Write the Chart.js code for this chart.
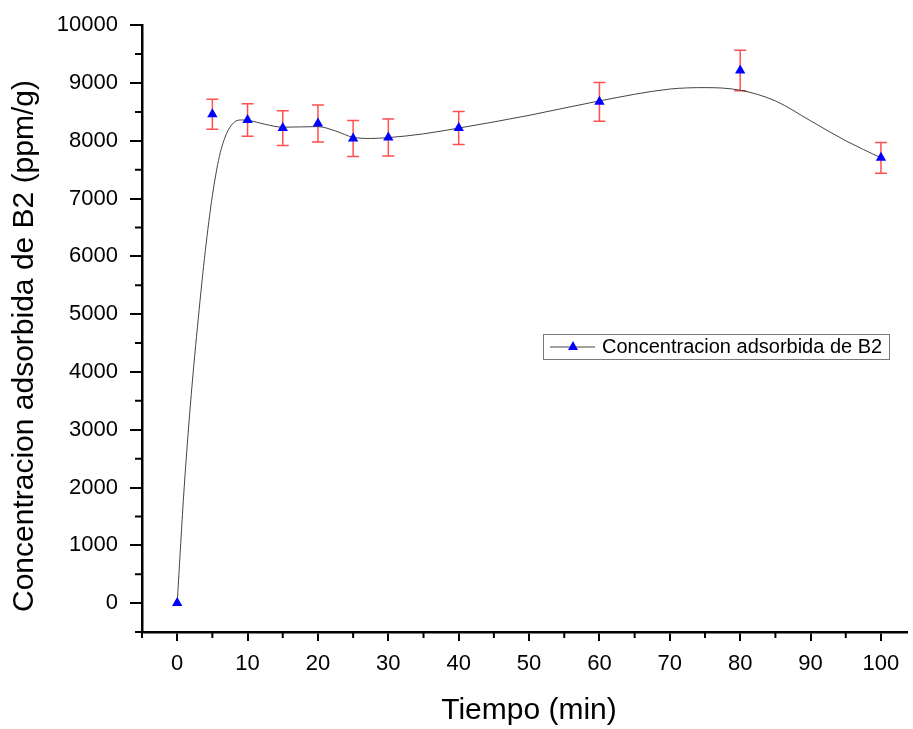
<!DOCTYPE html>
<html lang="es">
<head>
<meta charset="UTF-8">
<title>Concentracion adsorbida de B2</title>
<script src="https://cdn.jsdelivr.net/npm/chart.js"></script>
<style>
    body { margin: 0; background: #fff; }
    #wrap { width: 913px; height: 729px; }
</style>
</head>
<body>
<div id="wrap"><canvas id="myChart" width="913" height="729"></canvas></div>
<script>
// Measured points (min, ppm/g) with their error
const tiempo = [0, 5, 10, 15, 20, 25, 30, 40, 60, 80, 100];
const concentracion = [0, 8460, 8360, 8220, 8300, 8040, 8055, 8220, 8675, 9215, 7705];
const errorConc = [0, 260, 280, 300, 320, 310, 320, 285, 335, 350, 265];

// Smoothed curve through the measurements
const curvaX = [0, 1, 2, 3, 4, 5, 6, 7, 8, 9, 10, 12.5, 15, 17.5, 20, 22.5, 25, 27.5, 30, 35, 40, 50, 60, 70, 75, 80, 85, 90, 95, 100];
const curvaY = [0, 2010, 3610, 4930, 6100, 7050, 7730, 8120, 8310, 8360, 8355, 8285, 8235, 8240, 8245, 8170, 8060, 8040, 8055, 8120, 8220, 8440, 8690, 8895, 8920, 8875, 8690, 8345, 8000, 7705];

// Axis ticks
const xTicks = [0, 10, 20, 30, 40, 50, 60, 70, 80, 90, 100];
const xMinor = [-5, 5, 15, 25, 35, 45, 55, 65, 75, 85, 95, 105];
const yTicks = [0, 1000, 2000, 3000, 4000, 5000, 6000, 7000, 8000, 9000, 10000];
const yMinor = [-500, 500, 1500, 2500, 3500, 4500, 5500, 6500, 7500, 8500, 9500];

const serieLabel = 'Concentracion adsorbida de B2';
const xTitle = 'Tiempo (min)';
const yTitle = 'Concentracion adsorbida de B2 (ppm/g)';
const FONT = "'Liberation Sans', Arial, sans-serif";

// error bars behind the markers
const errorBars = {
    id: 'errorBars',
    beforeDatasetsDraw(chart) {
        const ctx = chart.ctx, xs = chart.scales.x, ys = chart.scales.y;
        ctx.save();
        ctx.strokeStyle = 'rgb(255,80,80)';
        ctx.lineWidth = 1.5;
        tiempo.forEach((t, i) => {
            if (!errorConc[i]) return;
            const px = xs.getPixelForValue(t);
            const top = ys.getPixelForValue(concentracion[i] + errorConc[i]);
            const bot = ys.getPixelForValue(concentracion[i] - errorConc[i]);
            ctx.beginPath();
            ctx.moveTo(px, top); ctx.lineTo(px, bot);
            ctx.moveTo(px - 6, top); ctx.lineTo(px + 6, top);
            ctx.moveTo(px - 6, bot); ctx.lineTo(px + 6, bot);
            ctx.stroke();
        });
        ctx.restore();
    }
};

// minor tick marks, axis titles and the legend box
const extras = {
    id: 'extras',
    afterDraw(chart) {
        const ctx = chart.ctx, xs = chart.scales.x, ys = chart.scales.y;
        const a = chart.chartArea;
        ctx.save();
        ctx.strokeStyle = '#000';
        ctx.lineWidth = 2;
        ctx.beginPath();
        xMinor.forEach(v => {
            const px = xs.getPixelForValue(v);
            if (px < a.left - 1 || px > a.right + 1) return;
            ctx.moveTo(px, a.bottom); ctx.lineTo(px, a.bottom + 6);
        });
        yMinor.forEach(v => {
            const py = ys.getPixelForValue(v);
            ctx.moveTo(a.left, py); ctx.lineTo(a.left - 7, py);
        });
        ctx.stroke();

        // axis titles
        ctx.fillStyle = '#000';
        ctx.font = '30px ' + FONT;
        ctx.textAlign = 'center';
        ctx.textBaseline = 'alphabetic';
        ctx.fillText(xTitle, 529, 719);
        ctx.save();
        ctx.translate(33, 346);
        ctx.rotate(-Math.PI / 2);
        ctx.fillText(yTitle, 0, 0);
        ctx.restore();

        // legend
        ctx.strokeStyle = '#777';
        ctx.lineWidth = 1;
        ctx.strokeRect(543.5, 334.5, 346, 25);
        ctx.strokeStyle = '#444';
        ctx.beginPath();
        ctx.moveTo(550, 347); ctx.lineTo(595, 347);
        ctx.stroke();
        ctx.fillStyle = '#0000ff';
        ctx.beginPath();
        ctx.moveTo(573, 341); ctx.lineTo(578, 350); ctx.lineTo(568, 350);
        ctx.closePath();
        ctx.fill();
        ctx.fillStyle = '#000';
        ctx.font = '20px ' + FONT;
        ctx.textAlign = 'left';
        ctx.textBaseline = 'middle';
        ctx.fillText(serieLabel, 602, 347);
        ctx.restore();
    }
};

const ctx = document.getElementById('myChart').getContext('2d');
const myChart = new Chart(ctx, {
    type: 'scatter',
    data: {
        datasets: [{
            label: 'curva',
            data: curvaX.map((x, i) => ({ x: x, y: curvaY[i] })),
            showLine: true,
            borderColor: '#444',
            borderWidth: 1,
            pointRadius: 0,
            cubicInterpolationMode: 'monotone',
            order: 2
        }, {
            label: serieLabel,
            data: tiempo.map((t, i) => ({ x: t, y: concentracion[i] })),
            showLine: false,
            pointStyle: 'triangle',
            pointRadius: 6,
            backgroundColor: '#0000ff',
            borderColor: '#0000ff',
            borderWidth: 0,
            order: 1
        }]
    },
    options: {
        responsive: false,
        animation: false,
        devicePixelRatio: 1,
        layout: { padding: { top: 22, right: 0, left: 0, bottom: 0 } },
        plugins: {
            legend: { display: false },
            tooltip: { enabled: false }
        },
        scales: {
            x: {
                type: 'linear',
                min: -5,
                max: 103.7,
                afterBuildTicks: s => { s.ticks = xTicks.map(v => ({ value: v })); },
                afterFit: s => { s.height = 97; },
                grid: { drawOnChartArea: false, color: '#000', lineWidth: 2, tickLength: 9 },
                border: { color: '#000', width: 2.5 },
                ticks: { color: '#000', font: { family: FONT, size: 22 }, padding: 10, maxRotation: 0 }
            },
            y: {
                type: 'linear',
                min: -500,
                max: 10000,
                afterBuildTicks: s => { s.ticks = yTicks.map(v => ({ value: v })); },
                afterFit: s => { s.width = 142; },
                grid: { drawOnChartArea: false, color: '#000', lineWidth: 2, tickLength: 12 },
                border: { color: '#000', width: 2.5 },
                ticks: { color: '#000', font: { family: FONT, size: 22 }, padding: 12, callback: v => String(v) }
            }
        }
    },
    plugins: [errorBars, extras]
});
</script>
</body>
</html>
